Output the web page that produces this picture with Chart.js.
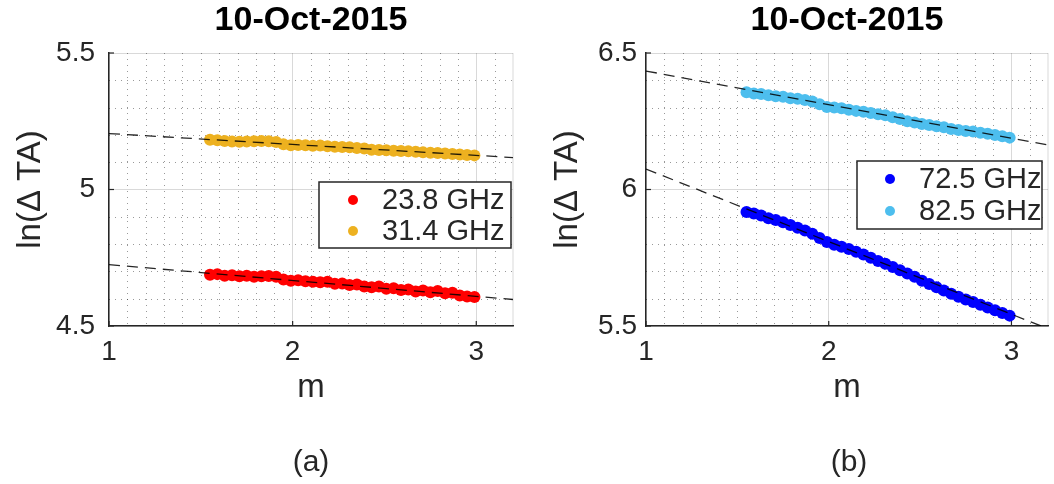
<!DOCTYPE html>
<html lang="en">

<head>
    <meta charset="utf-8">
    <style>
        body { margin: 0; background: #fff; }
        #wrap { position: relative; width: 1054px; height: 484px; }
        .panel { position: absolute; top: 0; width: 527px; height: 484px; }
        .caption {
            position: absolute; top: 444px; width: 100px; text-align: center;
            font: 30px "Liberation Sans", Arial, Helvetica, sans-serif; color: #262626;
        }
    </style>
</head>

<body>
    <div id="wrap">
        <div class="panel" style="left:0"><canvas id="chartA" width="527" height="484"></canvas></div>
        <div class="panel" style="left:527px"><canvas id="chartB" width="527" height="484"></canvas></div>
        <div class="caption" style="left:261px">(a)</div>
        <div class="caption" style="left:799px">(b)</div>
    </div>

    <script src="https://cdn.jsdelivr.net/npm/chart.js@4"></script>

    <script>
        // air mass values (m), shared by all four channels
        const mValues = [1.55, 1.59, 1.63, 1.67, 1.71, 1.75, 1.79, 1.83, 1.87, 1.91, 1.95, 1.99, 2.03, 2.07, 2.11,
            2.15, 2.19, 2.23, 2.27, 2.31, 2.35, 2.39, 2.43, 2.47, 2.51, 2.55, 2.59, 2.63, 2.67, 2.71, 2.75, 2.79,
            2.83, 2.87, 2.91, 2.95, 2.99];

        // ln(delta TA) per channel
        const ta238 = [4.688, 4.690, 4.684, 4.686, 4.682, 4.684, 4.680, 4.682, 4.683, 4.680, 4.670, 4.666, 4.668,
            4.664, 4.662, 4.660, 4.662, 4.655, 4.656, 4.650, 4.652, 4.645, 4.642, 4.645, 4.636, 4.638, 4.632, 4.634,
            4.626, 4.630, 4.624, 4.628, 4.620, 4.622, 4.612, 4.608, 4.606];
        const ta314 = [5.182, 5.180, 5.178, 5.176, 5.175, 5.176, 5.177, 5.178, 5.177, 5.174, 5.166, 5.162, 5.163,
            5.162, 5.160, 5.161, 5.158, 5.157, 5.156, 5.155, 5.152, 5.150, 5.146, 5.145, 5.144, 5.142, 5.141, 5.140,
            5.138, 5.136, 5.135, 5.134, 5.132, 5.130, 5.128, 5.126, 5.125];
        const ta725 = [5.918, 5.912, 5.905, 5.895, 5.888, 5.880, 5.870, 5.860, 5.850, 5.838, 5.822, 5.808, 5.798,
            5.790, 5.782, 5.772, 5.762, 5.750, 5.738, 5.728, 5.716, 5.704, 5.692, 5.680, 5.666, 5.654, 5.642, 5.630,
            5.618, 5.607, 5.597, 5.588, 5.578, 5.568, 5.558, 5.548, 5.538];
        const ta825 = [6.356, 6.352, 6.350, 6.345, 6.342, 6.340, 6.334, 6.332, 6.328, 6.322, 6.312, 6.302, 6.300,
            6.298, 6.292, 6.288, 6.285, 6.280, 6.276, 6.272, 6.265, 6.258, 6.250, 6.245, 6.240, 6.236, 6.232, 6.228,
            6.222, 6.218, 6.214, 6.212, 6.208, 6.204, 6.200, 6.195, 6.190];

        // fitted lines, evaluated at the ends of the m axis
        const fitM = [1, 3.2];
        const fit238 = [4.725, 4.597];
        const fit314 = [5.205, 5.117];
        const fit725 = [6.075, 5.490];
        const fit825 = [6.434, 6.163];

        // axis ticks
        const xTicks = [1, 2, 3];
        const yTicksA = [4.5, 5, 5.5];
        const yTicksB = [5.5, 6, 6.5];

        const family = '"Liberation Sans", Arial, Helvetica, sans-serif';
        const textColor = '#262626';

        function pts(xs, ys) {
            return xs.map((x, i) => ({ x: x, y: ys[i] }));
        }

        // dotted minor grid, light frame and inward tick marks (MATLAB look)
        const frameGrid = {
            id: 'frameGrid',
            beforeDatasetsDraw(chart) {
                const { ctx, chartArea: a, scales: { x, y } } = chart;
                ctx.save();
                ctx.strokeStyle = 'rgba(0,0,0,0.4)';
                ctx.lineWidth = 1;
                ctx.setLineDash([1, 5]);
                const nx = Math.round((x.max - x.min) / 0.1);
                for (let i = 1; i < nx; i++) {
                    if (i % 10 === 0) continue;
                    const px = Math.round(x.getPixelForValue(x.min + i * 0.1)) + 0.5;
                    ctx.beginPath(); ctx.moveTo(px, a.top); ctx.lineTo(px, a.bottom); ctx.stroke();
                }
                const ny = Math.round((y.max - y.min) / 0.1);
                for (let i = 1; i < ny; i++) {
                    if (i % 5 === 0) continue;
                    const py = Math.round(y.getPixelForValue(y.min + i * 0.1)) + 0.5;
                    ctx.beginPath(); ctx.moveTo(a.left, py); ctx.lineTo(a.right, py); ctx.stroke();
                }
                ctx.setLineDash([]);
                // light right edge
                ctx.strokeStyle = 'rgba(0,0,0,0.15)';
                ctx.beginPath(); ctx.moveTo(a.right, a.top); ctx.lineTo(a.right, a.bottom); ctx.stroke();
                // inward ticks
                ctx.strokeStyle = textColor;
                ctx.lineWidth = 1.2;
                x.ticks.forEach(t => {
                    const px = x.getPixelForValue(t.value);
                    ctx.beginPath(); ctx.moveTo(px, a.bottom); ctx.lineTo(px, a.bottom - 5); ctx.stroke();
                });
                y.ticks.forEach(t => {
                    const py = y.getPixelForValue(t.value);
                    ctx.beginPath(); ctx.moveTo(a.left, py); ctx.lineTo(a.left + 5, py); ctx.stroke();
                });
                ctx.restore();
            }
        };

        // legend box drawn inside the axes
        const boxLegend = {
            id: 'boxLegend',
            afterDraw(chart, args, opts) {
                const ctx = chart.ctx;
                const items = chart.data.datasets.filter(d => !d.showLine);
                ctx.save();
                ctx.fillStyle = '#fff';
                ctx.fillRect(opts.left, opts.top, opts.width, opts.height);
                ctx.strokeStyle = textColor;
                ctx.lineWidth = 1.5;
                ctx.strokeRect(opts.left, opts.top, opts.width, opts.height);
                ctx.font = '29px ' + family;
                ctx.textBaseline = 'middle';
                items.forEach((d, i) => {
                    const cy = opts.firstRow + i * opts.rowH;
                    ctx.fillStyle = d.backgroundColor;
                    ctx.beginPath(); ctx.arc(opts.dotX, cy, 5, 0, Math.PI * 2); ctx.fill();
                    ctx.fillStyle = textColor;
                    ctx.fillText(d.label, opts.textX, cy + 1);
                });
                ctx.restore();
            }
        };

        function scatterSet(label, ys, color) {
            return {
                label: label, data: pts(mValues, ys), backgroundColor: color, borderWidth: 0,
                pointRadius: 6, pointHoverRadius: 6, order: 2
            };
        }

        function fitSet(ys) {
            return {
                data: pts(fitM, ys), showLine: true, borderColor: 'rgba(0,0,0,0.85)', borderWidth: 1.3,
                borderDash: [11, 7], pointRadius: 0, fill: false, order: 1
            };
        }

        function makeChart(id, datasets, yMin, yMax, yTicks, axisW, yTickPad, yTitlePad, padRight, legendOpts) {
            const ctx = document.getElementById(id).getContext('2d');
            return new Chart(ctx, {
                type: 'scatter',
                data: { datasets: datasets },
                options: {
                    responsive: false,
                    animation: false,
                    devicePixelRatio: 1,
                    layout: { padding: { top: 0, left: 0, right: padRight, bottom: 58 } },
                    scales: {
                        x: {
                            type: 'linear', min: 1, max: 3.2,
                            afterBuildTicks: s => { s.ticks = xTicks.map(v => ({ value: v })); },
                            afterFit: s => { s.height = 100; },
                            ticks: { font: { size: 28, family: family }, color: textColor, padding: 9, callback: v => String(v) },
                            grid: { color: 'rgba(0,0,0,0.15)', drawTicks: false },
                            border: { color: textColor, width: 1.5 },
                            title: {
                                display: true, text: 'm', color: textColor,
                                font: { size: 33, family: family }, padding: { top: 0, bottom: 18 }
                            }
                        },
                        y: {
                            min: yMin, max: yMax,
                            afterBuildTicks: s => { s.ticks = yTicks.map(v => ({ value: v })); },
                            afterFit: s => { s.width = axisW; },
                            ticks: { font: { size: 28, family: family }, color: textColor, padding: yTickPad, callback: v => String(v) },
                            grid: { color: 'rgba(0,0,0,0.15)', drawTicks: false },
                            border: { color: textColor, width: 1.5 },
                            title: {
                                display: true, text: 'ln(Δ TA)', color: textColor,
                                font: { size: 33, family: family }, padding: { top: yTitlePad, bottom: 0 }
                            }
                        }
                    },
                    plugins: {
                        legend: { display: false },
                        tooltip: { enabled: false },
                        title: {
                            display: true, text: '10-Oct-2015', color: '#000', fullSize: false,
                            font: { size: 34, weight: 'bold', family: family }, padding: { top: 0, bottom: 12.2 }
                        },
                        boxLegend: legendOpts
                    }
                },
                plugins: [frameGrid, boxLegend]
            });
        }

        makeChart('chartA',
            [fitSet(fit238), fitSet(fit314), scatterSet('23.8 GHz', ta238, '#ff0000'), scatterSet('31.4 GHz', ta314, '#EDB120')],
            4.5, 5.5, yTicksA, 109, 14, 11, 14,
            { left: 319, top: 182, width: 192, height: 66, dotX: 353, textX: 382, firstRow: 200, rowH: 31 });

        makeChart('chartB',
            [fitSet(fit725), fitSet(fit825), scatterSet('72.5 GHz', ta725, '#0000ff'), scatterSet('82.5 GHz', ta825, '#4DBEEE')],
            5.5, 6.5, yTicksB, 119, 9, 21, 5,
            { left: 330, top: 161, width: 185, height: 68, dotX: 363, textX: 392, firstRow: 179, rowH: 32 });
    </script>
</body>

</html>
